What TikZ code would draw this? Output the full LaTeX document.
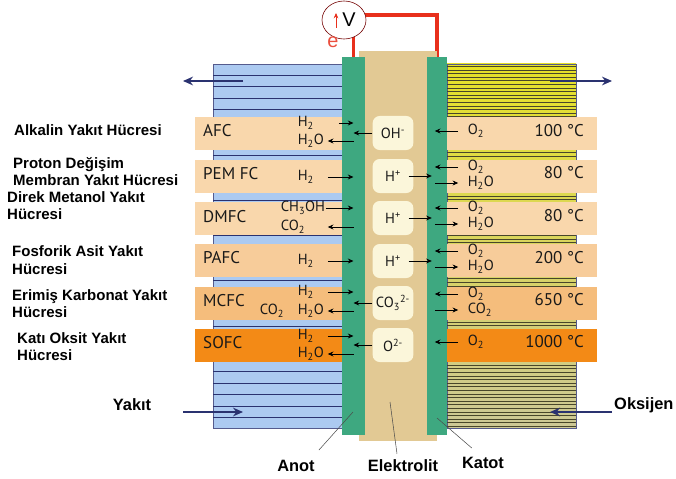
\documentclass[tikz,border=0pt]{standalone}
\usepackage{fontspec}
\setmainfont{PT Sans}
\newfontfamily\lblfont{Liberation Sans}
\usetikzlibrary{arrows.meta,positioning,fit,calc,backgrounds,shapes.geometric}
\definecolor{anblue}{RGB}{172,202,241}
\definecolor{navy}{RGB}{42,50,112}
\definecolor{elgreen}{RGB}{62,168,128}
\definecolor{elyt}{RGB}{226,201,148}
\definecolor{ionfill}{RGB}{251,246,218}
\definecolor{cellA}{RGB}{249,215,172}
\definecolor{cellB}{RGB}{247,204,154}
\definecolor{cellC}{RGB}{245,189,124}
\definecolor{cellD}{RGB}{243,138,22}
\definecolor{wirered}{RGB}{232,48,28}
\definecolor{catyel}{RGB}{230,226,40}
\definecolor{catkhaki}{RGB}{205,200,150}
\definecolor{catdark}{RGB}{72,70,42}
\tikzset{
  chan/.style   = {draw=navy!80, line width=0.6pt, inner sep=0pt},
  slab/.style   = {fill=elgreen, inner sep=0pt},
  cell/.style   = {inner sep=0pt},
  ionbox/.style = {fill=ionfill, rounded corners=6pt, minimum width=1.22cm,
                   minimum height=1.02cm, inner sep=0pt, text=black!90,
                   font=\fontsize{12.5}{13}\selectfont},
  abbr/.style   = {anchor=west, inner sep=0pt, text=black!90,
                   font=\fontsize{14.5}{15}\selectfont},
  temp/.style   = {anchor=east, inner sep=0pt, text=black!90,
                   font=\fontsize{14.5}{15}\selectfont},
  spc/.style    = {anchor=west, inner sep=0.5pt, text=black!90,
                   font=\fontsize{12.5}{13}\selectfont},
  lbl/.style    = {anchor=west, align=left, inner sep=0pt,
                   font=\lblfont\bfseries\fontsize{12.8}{15}\selectfont},
  blbl/.style   = {inner sep=0pt, font=\lblfont\bfseries\fontsize{14}{15}\selectfont},
  e/.style      = {-{Stealth[length=1.7mm,width=1.5mm]}, line width=0.7pt},
  feed/.style   = {-{Stealth[length=3mm,width=2.6mm]}, line width=2.2pt, navy},
  wire/.style   = {wirered, line width=2.6pt},
  lead/.style   = {black!70, line width=0.45pt},
  volt/.style   = {ellipse, draw=red!45!black, line width=0.5pt, fill=white,
                   minimum width=1.32cm, minimum height=1.14cm, inner sep=0pt}
}

\begin{document}
\begin{tikzpicture}[x=0.03cm,y=-0.03cm]
  \useasboundingbox (0,0) rectangle (676,479);

  % gas channels
  \node[chan, fill=anblue, fit={(213,64) (342,428)}] (fuelch) {};
  \foreach \yy in {75.4,86.8,...,420}
    \draw[navy, line width=0.7pt] (213,\yy) -- (342,\yy);
  \node[chan, top color=catyel, bottom color=catkhaki, fit={(447,64) (576,428)}] (airch) {};
  \foreach \yy in {66.5,70.1,...,427}
    \draw[catdark, line width=1pt] (447,\yy) -- (576,\yy);

  % electrolyte and electrodes
  \node[fill=elyt, inner sep=0pt, fit={(359,51) (437,441)}] (elyt) {};
  \node[slab, fit={(342,57) (365,435)}] (anode) {};
  \node[slab, fit={(427,57) (447,435)}] (cathode) {};

  % cell rows
  \foreach \yc/\col [count=\i] in {133/cellA,176/cellA,218/cellA,260.5/cellB,303/cellC,345.5/cellD} {
    \node[cell, fill=\col, fit={(195,\yc-16.5) (342,\yc+16.5)}] (L\i) {};
    \node[cell, fill=\col, fit={(447,\yc-16.5) (597,\yc+16.5)}] (R\i) {};
  }

  % ions
  \node[ionbox] (ion1) at (393,133) {OH\textsuperscript{-}};
  \node[ionbox] (ion2) at (393,176) {H\textsuperscript{+}};
  \node[ionbox] (ion3) at (393,218) {H\textsuperscript{+}};
  \node[ionbox] (ion4) at (393,261) {H\textsuperscript{+}};
  \node[ionbox] (ion5) at (393,303) {CO\textsubscript{3}\textsuperscript{2-}};
  \node[ionbox] (ion6) at (393,345) {O\textsuperscript{2-}};

  % voltmeter
  \node[volt] (volt) at (344,20) {};
  \node[font=\lblfont\fontsize{17}{17}\selectfont, inner sep=0pt] (vlab) at (349,20) {V};
  \draw[wirered, line width=0.8pt, -{Stealth[length=1.6mm,width=1.4mm]}]
    ($(volt.center)+(-8,8)$) -- ++(0,-15);
  \node[font=\lblfont\fontsize{17}{17}\selectfont, text=wirered!85, inner sep=0pt] (elec) at (333,42) {e};
  \begin{scope}[on background layer]
    \draw[wire] (anode.north) -- (anode.north |- volt.center);
    \draw[wire] ($(volt.center)+(0,-5)$) -| (cathode.north);
  \end{scope}

  % AFC
  \node[abbr] (afc) at (203,131) {AFC};
  \node[spc] (h2a) at (297,123) {H\textsubscript{2}};
  \node[spc] (h2oa) at (297,141) {H\textsubscript{2}O};
  \node[spc] (o2a) at (467,131) {O\textsubscript{2}};
  \node[temp] (t1) at (584,131) {100 °C};
  \draw[e] ($(anode.west |- h2a)+(-3,0)$) -- (anode.center |- h2a);
  \draw[e] (anode.center |- h2oa) -- ($(anode.west |- h2oa)+(-14,0)$);
  \draw[e] (ion1.west) -- (anode.center |- ion1);
  \draw[e] ($(cathode.east |- o2a)+(11,0)$) -- ($(cathode.west |- o2a)+(8,0)$);

  % PEM FC
  \node[abbr] (pem) at (203,174) {PEM FC};
  \node[spc] (h2b) at (297,177) {H\textsubscript{2}};
  \node[spc] (o2b) at (467,167) {O\textsubscript{2}};
  \node[spc] (h2ob) at (467,183) {H\textsubscript{2}O};
  \node[temp] (t2) at (584,173) {80 °C};
  \draw[e] ($(anode.west |- h2b)+(-14,0)$) -- (anode.center |- h2b);
  \draw[e] ($(ion2.east)+(-5,0)$) -- ($(cathode.west |- ion2)+(5,0)$);
  \draw[e] ($(cathode.east |- o2b)+(11,0)$) -- ($(cathode.west |- o2b)+(8,0)$);
  \draw[e] ($(cathode.west |- h2ob)+(8,0)$) -- ($(cathode.east |- h2ob)+(11,0)$);

  % DMFC
  \node[abbr] (dmfc) at (203,217) {DMFC};
  \node[spc] (meoh) at (280,208) {CH\textsubscript{3}OH};
  \node[spc] (co2c) at (280,227) {CO\textsubscript{2}};
  \node[spc] (o2c) at (467,208) {O\textsubscript{2}};
  \node[spc] (h2oc) at (467,224) {H\textsubscript{2}O};
  \node[temp] (t3) at (584,216) {80 °C};
  \draw[e] (meoh.east) -- (anode.center |- meoh);
  \draw[e] (anode.center |- co2c) -- ($(anode.west |- co2c)+(-14,0)$);
  \draw[e] ($(ion3.east)+(-5,0)$) -- ($(cathode.west |- ion3)+(5,0)$);
  \draw[e] ($(cathode.east |- o2c)+(11,0)$) -- ($(cathode.west |- o2c)+(8,0)$);
  \draw[e] ($(cathode.west |- h2oc)+(8,0)$) -- ($(cathode.east |- h2oc)+(11,0)$);

  % PAFC
  \node[abbr] (pafc) at (203,258) {PAFC};
  \node[spc] (h2d) at (297,261) {H\textsubscript{2}};
  \node[spc] (o2d) at (467,251) {O\textsubscript{2}};
  \node[spc] (h2od) at (467,267) {H\textsubscript{2}O};
  \node[temp] (t4) at (584,258) {200 °C};
  \draw[e] ($(anode.west |- h2d)+(-14,0)$) -- (anode.center |- h2d);
  \draw[e] ($(ion4.east)+(-5,0)$) -- ($(cathode.west |- ion4)+(5,0)$);
  \draw[e] ($(cathode.east |- o2d)+(11,0)$) -- ($(cathode.west |- o2d)+(8,0)$);
  \draw[e] ($(cathode.west |- h2od)+(8,0)$) -- ($(cathode.east |- h2od)+(11,0)$);

  % MCFC
  \node[abbr] (mcfc) at (203,301) {MCFC};
  \node[spc] (h2e) at (297,292) {H\textsubscript{2}};
  \node[spc] (co2e) at (259,311) {CO\textsubscript{2}};
  \node[spc] (h2oe) at (297,311) {H\textsubscript{2}O};
  \node[spc] (o2e) at (467,294) {O\textsubscript{2}};
  \node[spc] (co2r) at (467,310) {CO\textsubscript{2}};
  \node[temp] (t5) at (584,300) {650 °C};
  \draw[e] ($(anode.west |- h2e)+(-14,0)$) -- (anode.center |- h2e);
  \draw[e] (anode.center |- h2oe) -- ($(anode.west |- h2oe)+(-14,0)$);
  \draw[e] (ion5.west) -- (anode.center |- ion5);
  \draw[e] ($(cathode.east |- o2e)+(11,0)$) -- ($(cathode.west |- o2e)+(8,0)$);
  \draw[e] ($(cathode.west |- co2r)+(8,0)$) -- ($(cathode.east |- co2r)+(11,0)$);

  % SOFC
  \node[abbr] (sofc) at (203,343) {SOFC};
  \node[spc] (h2f) at (297,336) {H\textsubscript{2}};
  \node[spc] (h2of) at (297,354) {H\textsubscript{2}O};
  \node[spc] (o2f) at (467,342) {O\textsubscript{2}};
  \node[temp] (t6) at (584,342) {1000 °C};
  \draw[e] ($(anode.west |- h2f)+(-14,0)$) -- (anode.center |- h2f);
  \draw[e] (anode.center |- h2of) -- ($(anode.west |- h2of)+(-14,0)$);
  \draw[e] (ion6.west) -- (anode.center |- ion6);
  \draw[e] ($(cathode.east |- o2f)+(11,0)$) -- ($(cathode.west |- o2f)+(8,0)$);

  % cell names
  \node[lbl] (lafc) at (14,130) {Alkalin Yakıt Hücresi};
  \node[lbl] (lpem) at (13,171.5) {Proton Değişim\\Membran Yakıt Hücresi};
  \node[lbl] (ldmfc) at (7,205.5) {Direk Metanol Yakıt\\Hücresi};
  \node[lbl] (lpafc) at (12,260) {Fosforik Asit Yakıt\\Hücresi};
  \node[lbl] (lmcfc) at (12,303.5) {Erimiş Karbonat Yakıt\\Hücresi};
  \node[lbl] (lsofc) at (17,346.5) {Katı Oksit Yakıt\\Hücresi};

  % gas flows
  \coordinate (fuelOut) at (243,81);
  \coordinate (airOut) at (550,81);
  \coordinate (fuelIn) at (183,412);
  \coordinate (airIn) at (612,412);
  \draw[feed] (fuelOut) -- ++(-60,0);
  \draw[feed] (airOut) -- ++(62,0);
  \draw[feed] (fuelIn) -- ++(60,0);
  \draw[feed] (airIn) -- ++(-62,0);
  \node[blbl] (yakit) at (132,405) {Yakıt};
  \node[blbl, anchor=west] (oksijen) at (614,405) {Oksijen};

  % bottom labels
  \node[blbl] (anot) at (296,466) {Anot};
  \node[blbl] (elektrolit) at (403,466) {Elektrolit};
  \node[blbl] (katot) at (483,463) {Katot};
  \coordinate (anotTip) at (353,412);
  \coordinate (elytTip) at (390,402);
  \coordinate (katotTip) at (437,418);
  \draw[lead] ($(anot.north east)+(4,-10)$) -- (anotTip);
  \draw[lead] ($(elektrolit.north)+(-6,-6)$) -- (elytTip);
  \draw[lead] ($(katot.north west)+(10,-9)$) -- (katotTip);
\end{tikzpicture}
\end{document}
